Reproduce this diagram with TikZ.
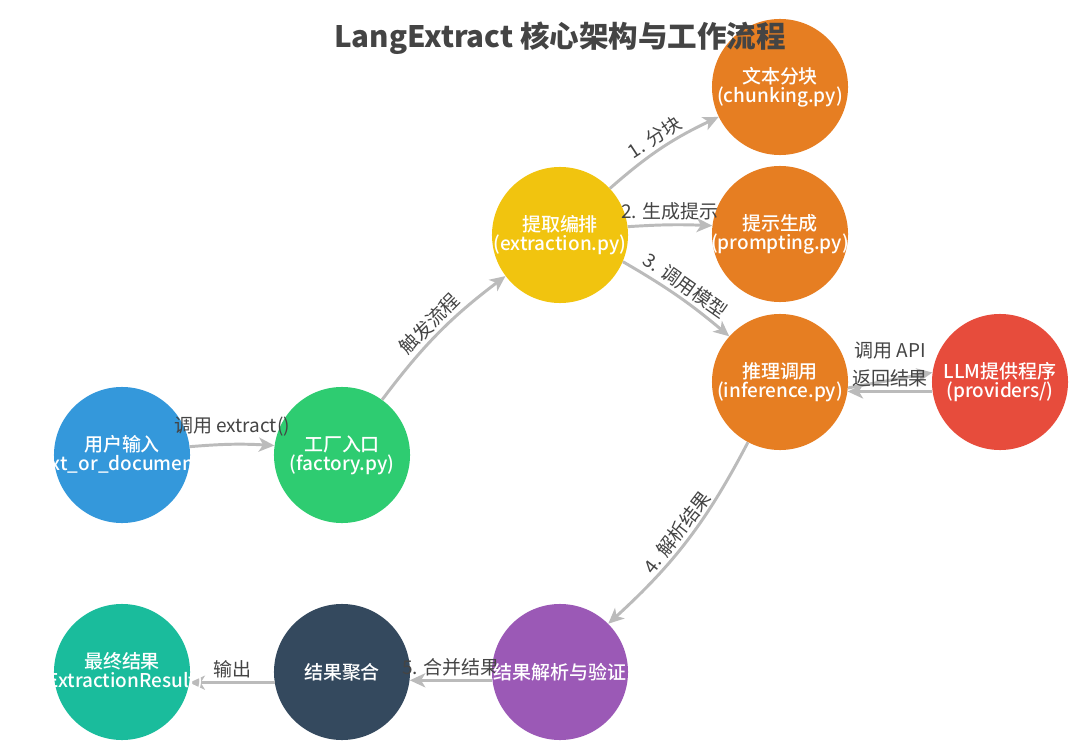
\documentclass[tikz,border=0pt]{standalone}
\usepackage{fontspec}
\setmainfont{Noto Sans CJK SC}
\newfontfamily\stagefont{Noto Sans CJK SC Medium}
\usetikzlibrary{arrows.meta}

\definecolor{userblue}{HTML}{3498DB}
\definecolor{factorygreen}{HTML}{2ECC71}
\definecolor{extractyellow}{HTML}{F1C40F}
\definecolor{moduleorange}{HTML}{E67E22}
\definecolor{providerred}{HTML}{E74C3C}
\definecolor{parsepurple}{HTML}{9B59B6}
\definecolor{aggnavy}{HTML}{34495E}
\definecolor{resultteal}{HTML}{1ABC9C}
\definecolor{arrowgrey}{HTML}{BBBBBB}
\definecolor{labelgrey}{HTML}{444444}

\tikzset{
	stage/.style={circle, minimum size=3.4cm, inner sep=0pt},
	stagetext/.style={text=white, align=center, inner sep=0pt, font=\stagefont\fontsize{13.5}{13.5}\selectfont},
	flow/.style={-{Stealth[length=11pt,width=10pt,inset=3pt]}, line width=2.1pt, color=arrowgrey},
	lbl/.style={text=labelgrey, font=\fontsize{13.5}{13.5}\selectfont, inner sep=2pt},
}

\begin{document}
\begin{tikzpicture}[x=0.025cm,y=-0.025cm]
	\useasboundingbox (0,0) rectangle (1080,748);
	% stages
	\node[stage, fill=userblue] (user) at (122,455) {};
	\node[stage, fill=factorygreen] (factory) at (342,455) {};
	\node[stage, fill=extractyellow] (extract) at (560,235) {};
	\node[stage, fill=moduleorange] (chunk) at (780,87) {};
	\node[stage, fill=moduleorange] (prompt) at (780,234) {};
	\node[stage, fill=moduleorange] (infer) at (780,382) {};
	\node[stage, fill=providerred] (llm) at (1000,382) {};
	\node[stage, fill=parsepurple] (parse) at (560,672) {};
	\node[stage, fill=aggnavy] (agg) at (342,672) {};
	\node[stage, fill=resultteal] (final) at (122,672) {};
	% connectors
	\draw[flow] (user.7) to[bend left=4] node[lbl, above=3pt] {调用 extract()} (factory.172);
	\draw[flow] (factory.54) to[bend left=8] node[lbl, sloped, above] {触发流程} (extract.217);
	\draw[flow] (extract.43) to[bend left=8] node[lbl, sloped, above] {1. 分块} (chunk.206);
	\draw[flow] (extract.7) to[bend left=3] node[lbl, above] {2. 生成提示} (prompt.173);
	\draw[flow] (extract.-23) to[bend left=5] node[lbl, sloped, above] {3. 调用模型} (infer.138);
	\draw[flow] (infer.-5) -- node[lbl, above=12pt] {调用 API} (llm.172);
	\draw[flow] (llm.188) -- node[lbl, above] {返回结果} (infer.-8);
	\draw[flow] (infer.242) to[bend left=10] node[lbl, sloped, above] {4. 解析结果} (parse.45);
	\draw[flow] (parse.187) -- node[lbl, above] {5. 合并结果} (agg.-7);
	\draw[flow] (agg.189) -- node[lbl, above] {输出} (final.-9);
	% stage texts
	\node[stagetext] (user-text) at (user) {用户输入\\(text\_or\_documents)};
	\node[stagetext] (factory-text) at (factory) {工厂入口\\(factory.py)};
	\node[stagetext] (extract-text) at (extract) {提取编排\\(extraction.py)};
	\node[stagetext] (chunk-text) at (chunk) {文本分块\\(chunking.py)};
	\node[stagetext] (prompt-text) at (prompt) {提示生成\\(prompting.py)};
	\node[stagetext] (infer-text) at (infer) {推理调用\\(inference.py)};
	\node[stagetext] (llm-text) at (llm) {LLM提供程序\\(providers/)};
	\node[stagetext] (parse-text) at (parse) {结果解析与验证};
	\node[stagetext] (agg-text) at (agg) {结果聚合};
	\node[stagetext] (final-text) at (final) {最终结果\\(ExtractionResult)};
	% title
	\node[text=labelgrey, font=\fontsize{21}{21}\selectfont\bfseries] (title) at (560,38) {LangExtract 核心架构与工作流程};
\end{tikzpicture}
\end{document}
